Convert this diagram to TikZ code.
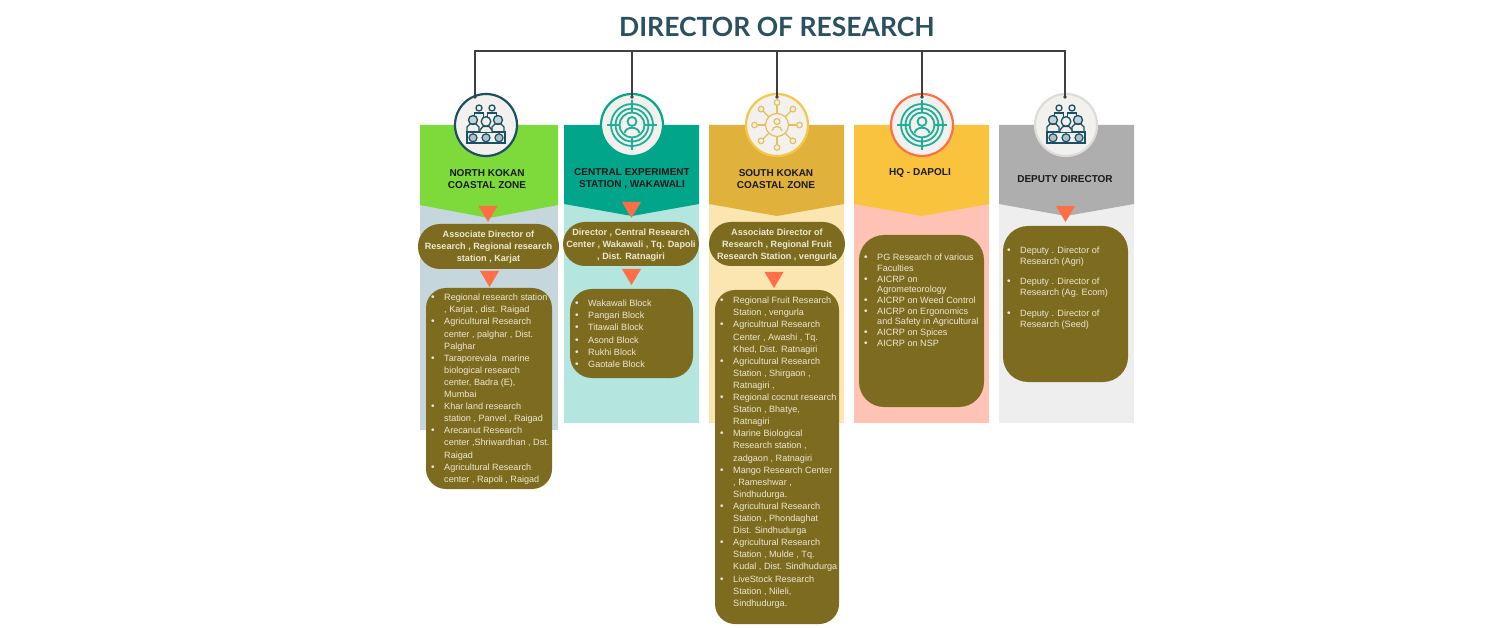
\documentclass[tikz,border=0pt]{standalone}
\usepackage{fontspec}
\setmainfont{Liberation Sans}
\newfontfamily\titlefont{Lato}
\usepackage{xcolor}
\usetikzlibrary{calc}
\definecolor{ink}{HTML}{2A5160}
\definecolor{wire}{HTML}{3F3F3F}
\definecolor{olive}{HTML}{7D6C1F}
\definecolor{cream}{HTML}{EDE8D2}
\definecolor{disc}{HTML}{F3F1ED}
\definecolor{arrowc}{HTML}{FF6F47}
\definecolor{teal}{HTML}{1FAE97}
\definecolor{navy}{HTML}{1B4F63}
\definecolor{sand}{HTML}{E6BE5A}
\definecolor{paleA}{HTML}{C5D6DC}
\definecolor{paleB}{HTML}{B5E5DF}
\definecolor{paleC}{HTML}{FBE5B0}
\definecolor{paleD}{HTML}{FFC3B5}
\definecolor{paleE}{HTML}{EEEEEE}
\definecolor{bandA}{HTML}{7ED93A}
\definecolor{bandB}{HTML}{00A58A}
\definecolor{bandC}{HTML}{E0B23C}
\definecolor{bandD}{HTML}{F9C33E}
\definecolor{bandE}{HTML}{AFAEAE}
\definecolor{ringC}{HTML}{F6C648}
\definecolor{ringE}{HTML}{DDDCD8}
\newcommand{\itm}{\makebox[13pt][l]{{\fontsize{10}{10}\selectfont\textbullet}}}
\newcommand{\cnt}{\hspace*{13pt}}
\tikzset{
  wireline/.style={draw=wire, line width=1.1pt},
  ring/.style={circle, fill=disc, line width=2.2pt, minimum size=62pt, inner sep=0pt},
  headtxt/.style={text=black!90, font=\fontsize{10}{12}\selectfont\bfseries, align=center},
  pill/.style={fill=olive, rounded corners=22pt, inner sep=0pt},
  pilltxt/.style={text=cream, font=\fontsize{9.1}{12}\selectfont\bfseries, align=center},
  listbox/.style={fill=olive, inner sep=0pt},
  listtxt/.style={text=cream, font=\fontsize{9.1}{12.1}\selectfont, align=left, anchor=north west, inner sep=0pt},
  pics/tridown/.style={code={\fill[arrowc] (-9.5,0)--(9.5,0)--(0,16)--cycle;}},
  pics/target/.style={code={
    \foreach \r in {21,16.5,12.5} \draw[line width=1.8pt] (0,0) circle (\r);
    \foreach \a in {0,90,180,270} \draw[line width=1.8pt] (\a:25)--(\a:13);
    \draw[line width=1.8pt] (0,-3.5) circle (4.5);
    \draw[line width=1.8pt] (-7.5,8) .. controls (-6,1) and (6,1) .. (7.5,8);
  }},
  pics/crowd/.style={code={
    \draw[line width=1.3pt] (-19,7) rectangle (19,18);
    \foreach \x in {-13,0,13}
      \draw[line width=1.2pt, fill=navy!35] (\x,12.8) circle (4);
    \foreach \x in {-7,6} {
      \draw[line width=1.3pt] (\x,-17) circle (3);
      \draw[line width=1.3pt] (\x-4.5,-8)--(\x-4.5,-12)--(\x+4.5,-12)--(\x+4.5,-8);
    }
    \foreach \x in {-13,12} {
      \draw[line width=1.3pt, fill=navy!25] (\x,-5) circle (4.5);
      \draw[line width=1.3pt] (\x-6,7)--(\x-6,2)--(\x-3,-1)--(\x+3,-1)--(\x+6,2)--(\x+6,7);
    }
    \draw[line width=1.3pt, fill=disc] (0,-3.5) circle (4.8);
    \draw[line width=1.3pt, fill=disc] (-6,7)--(-6,5)--(-3,1.5)--(3,1.5)--(6,5)--(6,7);
  }},
  pics/network/.style={code={
    \draw[line width=1.2pt] (0,0) circle (11.5);
    \draw[line width=1.2pt] (0,-3.5) circle (3);
    \draw[line width=1.2pt] (-5,6) .. controls (-4,0) and (4,0) .. (5,6);
    \foreach \a in {0,45,...,315} {
      \draw[line width=1.2pt] (\a:11.5)--(\a:19.5);
      \draw[line width=1.2pt] (\a:22.5) circle (2.8);
    }
  }},
}
\begin{document}
\begin{tikzpicture}[x=1pt,y=-1pt]
  \useasboundingbox[fill=white] (0,0) rectangle (1505,628);

  % pale columns, then the coloured bands with the pointed foot
  \fill[paleA] (420,125) rectangle (558,430);
  \fill[paleB] (564,125) rectangle (699,423);
  \fill[paleC] (709,125) rectangle (844,423);
  \fill[paleD] (854,125) rectangle (989,423);
  \fill[paleE] (999,125) rectangle (1134,423);
  \fill[bandA] (420,125)--(558,125)--(558,205)--(489,218)--(420,205)--cycle;
  \fill[bandB] (564,125)--(699,125)--(699,204)--(632,216)--(564,204)--cycle;
  \fill[bandC] (709,125)--(844,125)--(844,204)--(777,216)--(709,204)--cycle;
  \fill[bandD] (854,125)--(989,125)--(989,204)--(922,216)--(854,204)--cycle;
  \fill[bandE] (999,125)--(1134,125)--(1134,204)--(1066,216)--(999,204)--cycle;

  \node[text=ink, font=\titlefont\fontsize{26.5}{26.5}\selectfont\bfseries] (title) at (777,27) {DIRECTOR OF RESEARCH};

  \node[ring, draw=navy] (circ1) at (486,125) {};
  \node[ring, draw=bandB] (circ2) at (632,125) {};
  \node[ring, draw=ringC] (circ3) at (777,125) {};
  \node[ring, draw=arrowc] (circ4) at (922,125) {};
  \node[ring, draw=ringE] (circ5) at (1066,125) {};
  \pic[draw=navy] at (circ1) {crowd};
  \pic[draw=teal] at (circ2) {target};
  \pic[draw=sand] at (circ3) {network};
  \pic[draw=teal] at (circ4) {target};
  \pic[draw=navy] at (circ5) {crowd};

  % trunk from the title
  \coordinate (busL) at (475,51);
  \coordinate (busR) at (1065,51);
  \coordinate (drop1) at (475,97);
  \coordinate (drop5) at (1065,97);
  \draw[wireline] (drop1)--(busL)--(busR)--(drop5);
  \foreach \n in {2,3,4}
    \draw[wireline] (circ\n.center |- busL)--($(circ\n.center)+(0,-28)$);
  \foreach \p in {(drop1),(drop5)}
    \fill[wire] \p circle (1.8);
  \foreach \n in {2,3,4}
    \fill[wire] ($(circ\n.center)+(0,-28)$) circle (1.8);

  \node[headtxt] (head1) at (487,179) {NORTH KOKAN\\COASTAL ZONE};
  \node[headtxt] (head2) at (632,179) {CENTRAL EXPERIMENT\\STATION , WAKAWALI};
  \node[headtxt] (head3) at (776,179) {SOUTH KOKAN\\COASTAL ZONE};
  \node[headtxt] (head4) at (920,173) {HQ - DAPOLI};
  \node[headtxt] (head5) at (1065,179) {DEPUTY DIRECTOR};

  \pic at (488,206) {tridown};
  \pic at (489.5,271) {tridown};
  \pic at (631.5,202) {tridown};
  \pic at (631.5,269) {tridown};
  \pic at (774,272) {tridown};
  \pic at (1065.5,206) {tridown};

  \node[pill, minimum width=141pt, minimum height=45pt] (pill1) at (488.5,246.5) {};
  \node[pill, minimum width=136pt, minimum height=44pt] (pill2) at (631,244) {};
  \node[pill, minimum width=136pt, minimum height=44pt] (pill3) at (777,244) {};
  \node[pilltxt] (ptxt1) at ($(pill1)+(0,1)$) {Associate Director of\\Research , Regional research\\station , Karjat};
  \node[pilltxt] (ptxt2) at ($(pill2)+(0,1)$) {Director , Central Research\\Center , Wakawali , Tq. Dapoli\\, Dist. Ratnagiri};
  \node[pilltxt] (ptxt3) at ($(pill3)+(0,1)$) {Associate Director of\\Research , Regional Fruit\\Research Station , vengurla};

  \node[listbox, rounded corners=20pt, minimum width=126pt, minimum height=201pt] (list1) at (489,388.5) {};
  \node[listbox, rounded corners=22pt, minimum width=123pt, minimum height=89pt] (list2) at (631.5,333.5) {};
  \node[listbox, rounded corners=20pt, minimum width=124pt, minimum height=334pt] (list3) at (777,457) {};
  \node[listbox, rounded corners=25pt, minimum width=125pt, minimum height=172pt] (list4) at (921.5,321) {};
  \node[listbox, rounded corners=25pt, minimum width=125pt, minimum height=156pt] (list5) at (1065.5,304) {};

  \node[listtxt] (ltxt1) at (431,294) {%
    \itm Regional research station\\ \cnt, Karjat , dist. Raigad\\
    \itm Agricultural Research\\ \cnt center , palghar , Dist.\\ \cnt Palghar\\
    \itm Taraporevala\ \ marine\\ \cnt biological research\\ \cnt center, Badra (E),\\ \cnt Mumbai\\
    \itm Khar land research\\ \cnt station , Panvel , Raigad\\
    \itm Arecanut Research\\ \cnt center ,Shriwardhan , Dst.\\ \cnt Raigad\\
    \itm Agricultural Research\\ \cnt center , Rapoli , Raigad};
  \node[listtxt] (ltxt2) at (575,300) {%
    \itm Wakawali Block\\ \itm Pangari Block\\ \itm Titawali Block\\
    \itm Asond Block\\ \itm Rukhi Block\\ \itm Gaotale Block};
  \node[listtxt] (ltxt3) at (720,297) {%
    \itm Regional Fruit Research\\ \cnt Station , vengurla\\
    \itm Agricultrual Research\\ \cnt Center , Awashi , Tq.\\ \cnt Khed, Dist. Ratnagiri\\
    \itm Agricultural Research\\ \cnt Station , Shirgaon ,\\ \cnt Ratnagiri ,\\
    \itm Regional cocnut research\\ \cnt Station , Bhatye,\\ \cnt Ratnagiri\\
    \itm Marine Biological\\ \cnt Research station ,\\ \cnt zadgaon , Ratnagiri\\
    \itm Mango Research Center\\ \cnt , Rameshwar ,\\ \cnt Sindhudurga.\\
    \itm Agricultural Research\\ \cnt Station , Phondaghat\\ \cnt Dist. Sindhudurga\\
    \itm Agricultural Research\\ \cnt Station , Mulde , Tq.\\ \cnt Kudal , Dist. Sindhudurga\\
    \itm LiveStock Research\\ \cnt Station , Nileli,\\ \cnt Sindhudurga.};
  \node[listtxt, font=\fontsize{9.1}{10.7}\selectfont] (ltxt4) at (864,254) {%
    \itm PG Research of various\\ \cnt Faculties\\
    \itm AICRP on\\ \cnt Agrometeorology\\
    \itm AICRP on Weed Control\\
    \itm AICRP on Ergonomics\\ \cnt and Safety in Agricultural\\
    \itm AICRP on Spices\\
    \itm AICRP on NSP};
  \node[listtxt, font=\fontsize{9.1}{10.7}\selectfont] (ltxt5) at (1007,247) {%
    \itm Deputy . Director of\\ \cnt Research (Agri)\\[9.5pt]
    \itm Deputy . Director of\\ \cnt Research (Ag. Ecom)\\[10.5pt]
    \itm Deputy . Director of\\ \cnt Research (Seed)};
\end{tikzpicture}
\end{document}
